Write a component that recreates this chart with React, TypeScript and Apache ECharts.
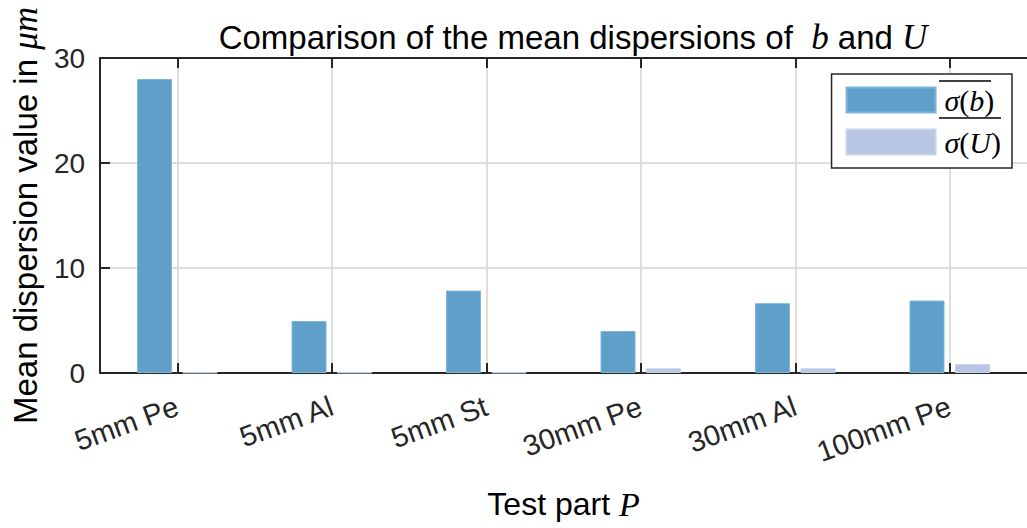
import React, { useEffect, useRef } from "react";
import * as echarts from "echarts";

const categories = ["5mm Pe", "5mm Al", "5mm St", "30mm Pe", "30mm Al", "100mm Pe"];
const sigmaB = [28.0, 4.95, 7.85, 4.0, 6.65, 6.9];
const sigmaU = [0.05, 0.05, 0.05, 0.45, 0.45, 0.85];
const yTicks = { min: 0, max: 30, interval: 10 };

const SANS = "Liberation Sans, Arial, Helvetica, sans-serif";
const SERIF = "Liberation Serif, DejaVu Serif, serif";
const AX = "#262626";

export default function App() {
  const ref = useRef<HTMLDivElement>(null);
  useEffect(() => {
    if (!ref.current) return;
    const chart = echarts.init(ref.current, null, { renderer: "svg" });
    const nameRich = (size: number) => ({
      t: { fontFamily: SANS, fontSize: size, color: "#000", fontWeight: "normal" },
      m: { fontFamily: SERIF, fontStyle: "italic", fontSize: size + 2, color: "#000", fontWeight: "normal" },
    });
    chart.setOption({
      animation: false,
      backgroundColor: "#fff",
      title: {
        text: "{t|Comparison of the mean dispersions of  }{m|b}{t| and }{m|U}",
        left: 568,
        textAlign: "center",
        top: 15,
        textStyle: { fontWeight: "normal", rich: nameRich(33) },
      },
      grid: { left: 99, right: -13, top: 58, bottom: 155 },
      legend: {
        right: 15,
        top: 74,
        orient: "vertical",
        icon: "rect",
        itemWidth: 89,
        itemHeight: 25,
        itemGap: 12,
        padding: [11, 11, 11, 14],
        borderColor: AX,
        borderWidth: 1.5,
        backgroundColor: "#fff",
        data: ["b", "U"],
        formatter: (n: string) => "{i|σ}{n|(}{i|" + n + "}{n|)}",
        textStyle: {
          padding: [0, 0, 0, 4],
          rich: {
            n: { fontFamily: SERIF, fontSize: 30, color: "#000" },
            i: { fontFamily: SERIF, fontSize: 30, color: "#000", fontStyle: "italic" },
          },
        },
      },
      xAxis: [
        {
          type: "category",
          data: categories,
          boundaryGap: true,
          name: "{t|Test part }{m|P}",
          nameLocation: "middle",
          nameGap: 114,
          nameTextStyle: { rich: nameRich(32) },
          axisLine: { show: true, lineStyle: { color: AX, width: 2 } },
          axisTick: { show: true, inside: true, length: 10, alignWithLabel: true, lineStyle: { color: AX, width: 2 } },
          splitLine: { show: true, alignWithLabel: true, lineStyle: { color: "#dedede", width: 2 } },
          axisLabel: {
            rotate: 20,
            fontFamily: SANS,
            fontSize: 29,
            color: AX,
            margin: 32,
            interval: 0,
          },
        },
        {
          type: "category",
          data: categories,
          position: "top",
          boundaryGap: true,
          axisLine: { show: true, lineStyle: { color: AX, width: 2 } },
          axisTick: { show: true, inside: true, length: 10, alignWithLabel: true, lineStyle: { color: AX, width: 2 } },
          axisLabel: { show: false },
          splitLine: { show: false },
        },
      ],
      yAxis: {
        type: "value",
        min: yTicks.min,
        max: yTicks.max,
        interval: yTicks.interval,
        name: "{t|Mean dispersion value in }{m|μm}",
        nameLocation: "middle",
        nameRotate: 90,
        nameGap: 50,
        nameTextStyle: { rich: nameRich(33) },
        axisLine: { show: true, lineStyle: { color: AX, width: 2 } },
        axisTick: { show: true, inside: true, length: 10, lineStyle: { color: AX, width: 2 } },
        splitLine: { show: true, lineStyle: { color: "#dedede", width: 2 } },
        axisLabel: { fontFamily: SANS, fontSize: 28, color: AX, margin: 15 },
      },
      series: [
        {
          name: "b",
          type: "bar",
          data: sigmaB,
          barWidth: 35,
          barGap: "30%",
          itemStyle: { color: "#5fa0cb", borderColor: "#80b5da", borderWidth: 1 },
        },
        {
          name: "U",
          type: "bar",
          data: sigmaU,
          barWidth: 35,
          barGap: "30%",
          itemStyle: { color: "#b8c5e3", borderColor: "#c8d3ea", borderWidth: 1 },
        },
      ],
      graphic: [
        { type: "line", z: 100, shape: { x1: 939, y1: 81, x2: 991, y2: 81 }, style: { stroke: "#000", lineWidth: 1.5 } },
        { type: "line", z: 100, shape: { x1: 939, y1: 118, x2: 1001, y2: 118 }, style: { stroke: "#000", lineWidth: 1.5 } },
      ],
    });
    return () => chart.dispose();
  }, []);
  return <div ref={ref} style={{ position: "fixed", left: 0, top: 0, width: 1027, height: 528 }} />;
}
